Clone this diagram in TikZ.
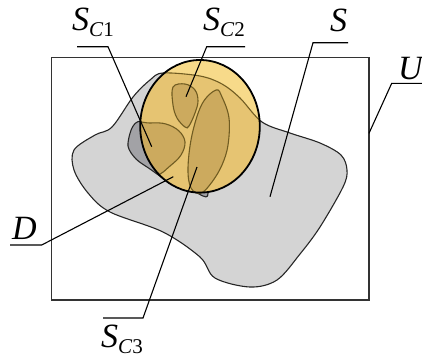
\documentclass[tikz,border=0pt]{standalone}
\usepackage{fontspec}
\setmainfont{Liberation Serif}
\usetikzlibrary{calc}
\definecolor{blobgray}{RGB}{212,212,212}
\definecolor{dgray}{RGB}{162,162,166}
\definecolor{ylight}{RGB}{247,218,138}
\definecolor{ydark}{RGB}{230,196,114}
\definecolor{yshape}{RGB}{204,170,94}
\definecolor{brown}{RGB}{112,92,34}
\newcommand{\setname}[2]{\textit{S}\raisebox{-6pt}{\fontsize{21}{21}\selectfont\textit{C}#2}}

\begin{document}
\begin{tikzpicture}[x=1pt,y=-1pt,
  lbl/.style={inner sep=0pt,anchor=base west,font=\fontsize{34}{40}\selectfont},
  leader/.style={line width=1.1pt,black},
  part/.style={fill=yshape,draw=brown,line width=1.1pt}]
\useasboundingbox (0,0) rectangle (422,357);
\def\blob{plot[smooth cycle,tension=0.55] coordinates {(163,73) (200,76) (222,84) (240,98) (262,122) (290,133)
  (320,143) (341,155) (347,170) (343,187) (320,227) (300,254) (277,280) (250,287) (215,278)
  (200,257) (163,232) (110,212) (88,193) (74,170) (74,150) (95,135) (112,127) (133,97) (150,80)}}
\def\disc{(200,126.3) ellipse[x radius=59.8,y radius=66.3]}
% universe
\draw[line width=1.1pt,black!80] (51.7,57.7) rectangle (369,300);
% S and D
\filldraw[fill=blobgray,draw=black!85,line width=1.1pt] \blob;
\filldraw[fill=dgray,draw=black!85,line width=1.1pt] plot[smooth cycle,tension=0.5] coordinates {(141,121) (132,128)
  (128,146) (136,159) (150,169) (175,186) (197,193) (203,196) (208,193) (205,150) (170,125)};
% disc
\fill[ylight] \disc;
\begin{scope}
\clip \disc;
\fill[ydark] \blob;
\draw[brown,line width=1.1pt] \blob;
\draw[part] plot[smooth cycle,tension=0.6] coordinates {(125,126) (150,123) (166,124) (179,131) (185,142)
  (181,155) (170,166) (155,176) (125,176)};
\end{scope}
\draw[part] plot[smooth cycle,tension=0.6] coordinates {(173,87) (185,84) (195,90) (198,101) (195,113)
  (189,126) (185,127) (177,118) (173,105)};
\draw[part] plot[smooth cycle,tension=0.6] coordinates {(216,90) (222,97) (229,118) (228,145) (222,165)
  (212,182) (201,193) (191,188) (188,168) (192,135) (202,104)};
\draw[line width=1.8pt] \disc;
% labels
\node[lbl] (sc1) at (72,30) {\setname{S}{1}};
\node[lbl] (sc2) at (203,30) {\setname{S}{2}};
\node[lbl] (s) at (330,31) {\textit{S}};
\node[lbl] (u) at (398,79) {\textit{U}};
\node[lbl] (d) at (12,239) {\textit{D}};
\node[lbl] (sc3) at (101,347) {\setname{S}{3}};
% leaders
\coordinate (sc1e) at (77,46.7);   \coordinate (sc1k) at (108,46.7);  \coordinate (sc1t) at (151.7,146.7);
\coordinate (sc2e) at (245,46.7);  \coordinate (sc2k) at (206.7,46.7); \coordinate (sc2t) at (186,96.7);
\coordinate (se) at (348,42.7);    \coordinate (sk) at (313,42.7);    \coordinate (st) at (270,196.7);
\coordinate (ue) at (422,83.3);    \coordinate (uk) at (391.7,83.3);  \coordinate (ut) at (369,133.3);
\coordinate (de) at (10,245);      \coordinate (dk) at (41.7,245);    \coordinate (dt) at (173.3,176.7);
\coordinate (sc3e) at (103,318);   \coordinate (sc3k) at (143,318);   \coordinate (sc3t) at (197,167);
\foreach \p in {sc1,sc2,s,u,d,sc3}
  \draw[leader] (\p e) -- (\p k) -- (\p t);
\end{tikzpicture}
\end{document}
